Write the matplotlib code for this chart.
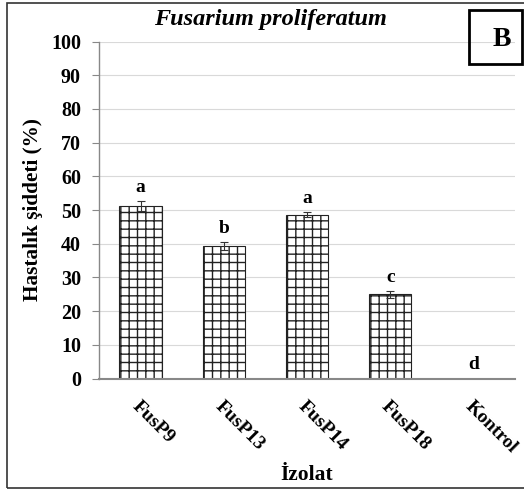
import numpy as np
import matplotlib.pyplot as plt
from matplotlib.patches import Rectangle

izolat = ['FusP9', 'FusP13', 'FusP14', 'FusP18', 'Kontrol']
siddet = [51.2, 39.3, 48.6, 25.0, 0.0]
hata = [1.6, 1.2, 0.8, 1.0, 0.0]
harfler = ['a', 'b', 'a', 'c', 'd']

plt.rcParams['font.family'] = ['Liberation Serif', 'DejaVu Serif']
plt.rcParams['hatch.linewidth'] = 1.0

fig = plt.figure(figsize=(5.24, 4.93), dpi=100)
ax = fig.add_axes([99/524, 1 - 378.5/493, 416/524, 337/493])

x = np.arange(len(izolat))
ax.bar(x, siddet, width=0.51, color='white', edgecolor='#222222',
       hatch='++', linewidth=0.8, zorder=2)
ax.errorbar(x[:4], siddet[:4], yerr=hata[:4], fmt='none', ecolor='#333333',
            elinewidth=0.8, capsize=3, capthick=0.8, zorder=3)
for xi, v, e, h in zip(x, siddet, hata, harfler):
    ax.text(xi, v + e + 1.5, h, ha='center', va='bottom', fontsize=14,
            fontweight='bold')

ax.set_xlim(-0.5, 4.5)
ax.set_ylim(0, 100)
ax.set_yticks(range(0, 101, 10))
ax.yaxis.grid(True, color='#d9d9d9', linewidth=0.8, zorder=0)
ax.set_axisbelow(True)
for s in ['top', 'right']:
    ax.spines[s].set_visible(False)
for s in ['left', 'bottom']:
    ax.spines[s].set_color('#888888')
    ax.spines[s].set_linewidth(1.0)
ax.spines['bottom'].set_linewidth(1.5)
ax.tick_params(axis='y', length=5, color='#888888', labelsize=14.5, pad=8)
ax.tick_params(axis='x', length=0, labelsize=14, pad=14)
for lab in ax.get_yticklabels():
    lab.set_fontweight('bold')
ax.set_xticks(x)
ax.set_xticklabels(izolat, rotation=-45, ha='left', rotation_mode='anchor',
                   fontweight='bold')
ax.set_ylabel('Hastalık şiddeti (%)', fontsize=15.3, fontweight='bold', labelpad=6)
ax.set_xlabel('İzolat', fontsize=15.5, fontweight='bold', labelpad=6)

fig.text(270/524, 1 - 19/493, 'Fusarium proliferatum', ha='center', va='center',
         fontsize=17.5, fontweight='bold', style='italic')

fig.patches.append(Rectangle((7/524, 5/493), 600/524, 485/493, fill=False,
                             edgecolor='#333333', linewidth=1.2,
                             transform=fig.transFigure, figure=fig))
fig.patches.append(Rectangle((469/524, 1 - 64/493), 53/524, 54/493, fill=False,
                             edgecolor='black', linewidth=2,
                             transform=fig.transFigure, figure=fig))
fig.text(502/524, 1 - 39/493, 'B', ha='center', va='center', fontsize=20,
         fontweight='bold')

fig.savefig('out.png', dpi=100)
